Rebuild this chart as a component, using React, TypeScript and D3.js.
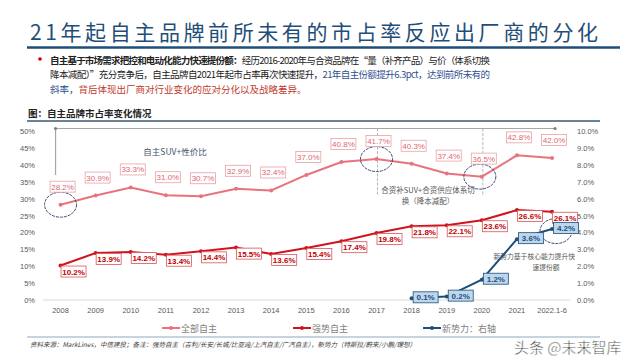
import React from "react";
import * as d3 from "d3";

const years = ["2008", "2009", "2010", "2011", "2012", "2013", "2014", "2015", "2016", "2017", "2018", "2019", "2020", "2021", "2022.1-6"];
const allOwn = [28.2, 30.9, 33.3, 31.0, 30.7, 32.9, 32.4, 37.0, 40.8, 41.7, 40.3, 37.4, 36.5, 42.8, 42.0];
const strongOwn = [10.2, 13.9, 14.2, 13.4, 14.4, 15.5, 13.6, 15.4, 17.4, 19.8, 21.8, 22.1, 23.6, 26.6, 26.1];
const newYears = ["2018", "2019", "2020", "2021", "2022.1-6"];
const newForces = [0.1, 0.2, 1.2, 3.6, 4.2];
const leftTicks = [0, 5, 10, 15, 20, 25, 30, 35, 40, 45, 50];
const rightTicks = [0, 1, 2, 3, 4, 5, 6, 7, 8, 9, 10];

const PINK = "#E8737C";
const RED = "#D0141E";
const NAVY = "#1F4E79";
const TITLE = "#1F4E79";
const FONT = "'Noto Sans CJK SC', 'Noto Sans', sans-serif";
const NUM = "'Liberation Sans', Arial, sans-serif";

const x = d3.scaleBand<string>().domain(years).range([43, 569.6]).padding(0);
const cx = (d: string) => (x(d) as number) + x.bandwidth() / 2;
const yL = d3.scaleLinear().domain([0, 50]).range([300, 131]);
const yR = d3.scaleLinear().domain([0, 10]).range([300, 131]);

const lineL = d3.line<[string, number]>().x((d) => cx(d[0])).y((d) => yL(d[1]));
const lineR = d3.line<[string, number]>().x((d) => cx(d[0])).y((d) => yR(d[1]));

const allPts: [string, number][] = years.map((y, i) => [y, allOwn[i]]);
const strongPts: [string, number][] = years.map((y, i) => [y, strongOwn[i]]);
const newPts: [string, number][] = newYears.map((y, i) => [y, newForces[i]]);

function Label({ x0, y0, text, color, border, fill, bold }: any) {
  const w = 25;
  const h = 11;
  return (
    <g>
      <rect x={x0 - w / 2} y={y0 - h / 2} width={w} height={h} fill={fill} stroke={border} strokeWidth={0.8} />
      <text x={x0} y={y0 + 3} textAnchor="middle" fontSize={8} fontFamily={NUM} fill={color} fontWeight={bold ? "bold" : "normal"}>
        {text}
      </text>
    </g>
  );
}

export default function App() {
  return (
    <svg width={640} height={360} style={{ position: "absolute", left: 0, top: 0, background: "#fff" }}>
      <rect width={640} height={360} fill="#fff" />
      {/* title */}
      <text x={30} y={40} fontSize={21} fontFamily={FONT} fill={TITLE} textLength={568} lengthAdjust="spacing">
        21年起自主品牌前所未有的市占率反应出厂商的分化
      </text>
      <line x1={27} x2={620} y1={47.5} y2={47.5} stroke={TITLE} strokeWidth={2.5} />

      {/* bullet paragraph */}
      <circle cx={40} cy={59} r={1.8} fill="#C00000" />
      <text x={50} y={64} fontSize={9.5} fontFamily={FONT} fill="#222" textLength={440} lengthAdjust="spacing">
        <tspan fontWeight="bold">自主基于市场需求把控和电动化能力快速提份额：</tspan>
        <tspan>经历2016-2020年与合资品牌在“量（补齐产品）与价（体系切换</tspan>
      </text>
      <text x={50} y={78} fontSize={9.5} fontFamily={FONT} fill="#222" textLength={440} lengthAdjust="spacing">
        <tspan>降本减配）”充分竞争后，自主品牌自2021年起市占率再次快速提升，</tspan>
        <tspan fill="#2F4F8F">21年自主份额提升6.3pct，达到前所未有的</tspan>
      </text>
      <text x={50} y={93} fontSize={9.5} fontFamily={FONT} fill="#2F4F8F">
        <tspan>斜率，</tspan>
        <tspan fill="#C0392B">背后体现出厂商对行业变化的应对分化以及战略差异。</tspan>
      </text>

      {/* figure caption */}
      <text x={28} y={117} fontSize={9.5} fontFamily={FONT} fill="#222" fontWeight="bold">
        图：自主品牌市占率变化情况
      </text>
      <line x1={27} x2={600} y1={121} y2={121} stroke="#3A5A70" strokeWidth={1.5} />

      {/* axes */}
      <line x1={43} x2={570} y1={yL(0)} y2={yL(0)} stroke="#D9D9D9" strokeWidth={1} />
      {leftTicks.map((t) => (
        <text key={"l" + t} x={35} y={yL(t) + 3} textAnchor="end" fontSize={7.5} fontFamily={NUM} fill="#595959">
          {t}%
        </text>
      ))}
      {rightTicks.map((t) => (
        <text key={"r" + t} x={577} y={yR(t) + 3} fontSize={7.5} fontFamily={NUM} fill="#595959">
          {t.toFixed(1)}%
        </text>
      ))}
      {years.map((yr) => (
        <text key={yr} x={cx(yr)} y={313} textAnchor="middle" fontSize={7.5} fontFamily={NUM} fill="#595959">
          {yr}
        </text>
      ))}

      {/* bracket / annotations */}
      <line x1={cx("2008") - 5} x2={cx("2022.1-6") + 3} y1={128.5} y2={128.5} stroke="#A6A6A6" strokeWidth={1.2} />
      <line x1={cx("2008") - 5} x2={cx("2008") - 5} y1={128.5} y2={175} stroke="#A6A6A6" strokeWidth={1.2} />
      <circle cx={cx("2008") - 5} cy={128.5} r={1.6} fill="#808080" />
      <circle cx={cx("2022.1-6") + 3} cy={128.5} r={1.6} fill="#808080" />
      <line x1={cx("2017") + 1} x2={cx("2017") + 1} y1={128.5} y2={195} stroke="#A6A6A6" strokeWidth={0.8} strokeDasharray="3,1.5" />
      <line x1={cx("2020") + 1} x2={cx("2020") + 1} y1={128.5} y2={195} stroke="#A6A6A6" strokeWidth={0.8} strokeDasharray="3,1.5" />
      <text x={175} y={155} textAnchor="middle" fontSize={8.5} fontFamily={FONT} fill="#44546A">
        自主SUV+性价比
      </text>
      <text x={428} y={193} textAnchor="middle" fontSize={7.5} fontFamily={FONT} fill="#595959">
        合资补SUV+合资供应体系切
      </text>
      <text x={428} y={204} textAnchor="middle" fontSize={7.5} fontFamily={FONT} fill="#595959">
        换（降本减配）
      </text>
      <text x={575} y={259} textAnchor="end" fontSize={6.8} fontFamily={FONT} fill="#595959">
        新势力基于核心能力提升快
      </text>
      <text x={546} y={270} textAnchor="middle" fontSize={6.8} fontFamily={FONT} fill="#595959">
        速提份额
      </text>

      {/* series lines */}
      <path d={lineL(allPts) as string} fill="none" stroke={PINK} strokeWidth={2} />
      {allPts.map((d) => (
        <circle key={"a" + d[0]} cx={cx(d[0])} cy={yL(d[1])} r={2} fill={PINK} />
      ))}
      <path d={lineL(strongPts) as string} fill="none" stroke={RED} strokeWidth={2} />
      {strongPts.map((d) => (
        <circle key={"s" + d[0]} cx={cx(d[0])} cy={yL(d[1])} r={2} fill={RED} />
      ))}
      <path d={lineR(newPts) as string} fill="none" stroke={NAVY} strokeWidth={2} />
      {newPts.map((d) => (
        <circle key={"n" + d[0]} cx={cx(d[0])} cy={yR(d[1])} r={2} fill={NAVY} />
      ))}

      {/* ellipses */}
      {[
        [cx("2008"), yL(allOwn[0])],
        [cx("2017"), yL(allOwn[9])],
        [cx("2020") - 2, yL(allOwn[12])],
        [cx("2022.1-6") + 4, yR(newForces[4]) + 2],
      ].map((p, i) => (
        <ellipse key={"e" + i} cx={p[0]} cy={p[1]} rx={16} ry={12.5} fill="none" stroke="#1F3864" strokeWidth={0.9} strokeDasharray="3,1" />
      ))}

      {/* data labels */}
      {allPts.map((d) => (
        <Label key={"la" + d[0]} x0={cx(d[0]) + 2} y0={yL(d[1]) - 18} text={d[1].toFixed(1) + "%"} color="#E06670" border="#EBA0A6" fill="#fff" />
      ))}
      {strongPts.map((d) => (
        <Label key={"ls" + d[0]} x0={cx(d[0]) + 13} y0={yL(d[1]) + 6} text={d[1].toFixed(1) + "%"} color="#C00000" border="#D9545C" fill="#fff" bold />
      ))}
      {newPts.map((d) => (
        <Label key={"ln" + d[0]} x0={cx(d[0]) + 14} y0={yR(d[1]) - 1} text={d[1].toFixed(1) + "%"} color={NAVY} border={NAVY} fill="#BDD7EE" bold />
      ))}

      {/* legend */}
      {[
        { name: "全部自主", color: PINK, x0: 162 },
        { name: "强势自主", color: RED, x0: 293 },
        { name: "新势力：右轴", color: NAVY, x0: 423 },
      ].map((l) => (
        <g key={l.name}>
          <line x1={l.x0} x2={l.x0 + 18} y1={328} y2={328} stroke={l.color} strokeWidth={2} />
          <circle cx={l.x0 + 9} cy={328} r={2} fill={l.color} />
          <text x={l.x0 + 19} y={331.5} fontSize={9} fontFamily={FONT} fill="#7F7F7F">
            {l.name}
          </text>
        </g>
      ))}

      {/* footer */}
      <line x1={27} x2={600} y1={337} y2={337} stroke="#8EA9C1" strokeWidth={1} />
      <text x={30} y={347} fontSize={6.5} fontFamily={FONT} fontStyle="italic" fill="#404040">
        资料来源：MarkLines，中信建投；备注：强势自主（吉利/长安/长城/比亚迪/上汽自主/广汽自主），新势力（特斯拉/蔚来/小鹏/理想）
      </text>
      <text x={514} y={353} fontSize={15} fontFamily={FONT} fill="#222" stroke="#fff" strokeWidth={0.5}>
        头条 @未来智库
      </text>
    </svg>
  );
}
